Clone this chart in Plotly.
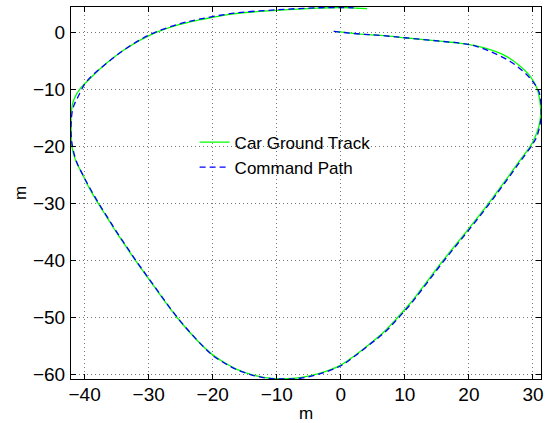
import plotly.graph_objects as go

# Car ground track (green, solid)
track_x = [-1.1, 3.0, 6.2, 10.0, 15.5, 18.5, 20.8, 23.3, 25.9, 28.0, 29.6, 30.6, 31.1, 31.2, 30.9, 30.3, 29.6,
           28.1, 26.5, 24.8, 23.1, 19.6, 16.0, 12.6, 10.8, 8.9, 6.8, 4.6, 2.2, 0.0, -3.2, -6.3, -9.0, -11.5, -14.1,
           -16.5, -18.8, -20.0, -21.6, -23.7, -25.6, -27.3, -28.9, -30.5, -32.1, -33.6, -35.1, -36.5,
           -37.9, -39.2, -40.3, -41.4, -42.0, -42.1, -42.05, -41.7, -40.6, -39.1, -36.5, -33.4, -29.7,
           -25.3, -21.9, -16.7, -10.0, -3.7, 0.0, 4.1]
track_y = [0.1, -0.35, -0.6, -1.0, -1.6, -1.95, -2.35, -3.1, -4.3, -6.0, -7.8, -9.8, -12.3, -14.5, -16.6, -18.5, -20.0,
           -22.3, -24.8, -27.4, -30.0, -35.0, -40.0, -45.0, -47.6, -50.0, -52.5, -54.6, -56.7, -58.4, -59.8, -60.6, -60.8, -60.65, -60.0,
           -59.0, -57.5, -56.6, -55.0, -52.5, -50.0, -47.5, -45.0, -42.5, -40.0, -37.5, -35.0, -32.5,
           -30.0, -27.5, -25.0, -22.5, -20.0, -17.0, -13.8, -11.9, -9.8, -8.1, -5.4, -2.8, -0.5,
           1.3, 2.16, 3.2, 3.8, 4.2, 4.3, 4.1]

# Command path (blue, dashed)
cmd_x = [-1.1, 3.0, 6.2, 10.0, 15.5, 18.5, 20.8, 23.3, 26.5, 29.3, 30.9, 31.25, 31.2, 30.6, 29.8,
         28.2, 26.6, 24.9, 23.2, 19.7, 16.1, 12.7, 10.9, 9.0, 6.9, 4.6, 2.2, 0.0, -3.2, -6.3, -9.0, -11.5, -14.1,
         -16.5, -18.8, -20.0, -21.5, -23.5, -25.4, -27.1, -28.7, -30.3, -31.9, -33.4, -34.9, -36.3,
         -37.7, -39.0, -40.2, -41.3, -41.9, -42.1, -42.1, -41.8, -41.0, -39.7, -36.6, -33.4, -29.7,
         -25.3, -21.9, -16.7, -10.0, -3.7, 0.0, 2.0]
cmd_y = [0.1, -0.35, -0.6, -1.0, -1.6, -1.95, -2.4, -3.4, -5.2, -7.8, -10.4, -13.0, -15.5, -18.3, -19.9,
         -22.4, -24.9, -27.5, -30.1, -35.1, -40.1, -45.1, -47.7, -50.1, -52.6, -54.7, -56.8, -58.5, -59.9, -60.7, -60.83, -60.7, -60.05,
         -59.05, -57.6, -56.7, -55.1, -52.7, -50.2, -47.7, -45.2, -42.7, -40.2, -37.7, -35.2, -32.7,
         -30.2, -27.7, -25.2, -22.6, -20.0, -18.0, -15.9, -13.3, -11.3, -8.7, -5.5, -2.8, -0.4,
         1.4, 2.3, 3.3, 3.9, 4.25, 4.3, 4.25]

x_range = [-42.12, 31.25]
y_range = [-60.83, 4.39]
x_ticks = [-40, -30, -20, -10, 0, 10, 20, 30]
y_ticks = [-60, -50, -40, -30, -20, -10, 0]

fig = go.Figure()
fig.add_trace(go.Scatter(x=track_x, y=track_y, mode="lines", name="Car Ground Track",
                         line=dict(color="#00ff00", width=1.3, shape="spline", smoothing=1.0)))
fig.add_trace(go.Scatter(x=cmd_x, y=cmd_y, mode="lines", name="Command Path",
                         line=dict(color="#0000ff", width=1.3, dash="6px,4px", shape="spline", smoothing=1.0)))

family = "Liberation Sans, Arial, Helvetica, sans-serif"
font = dict(family=family, size=17, color="black")
tickfont = dict(family=family, size=19, color="black")
axis_common = dict(showline=True, linecolor="black", linewidth=1, mirror="ticks",
                   ticks="inside", ticklen=5, tickcolor="black", tickwidth=1,
                   showgrid=True, gridcolor="#777777", griddash="1px,3px", gridwidth=1,
                   zeroline=False, tickfont=tickfont, automargin=False)

fig.update_layout(
    width=550, height=423,
    margin=dict(l=71, r=9, t=7, b=44),
    paper_bgcolor="white", plot_bgcolor="white",
    font=font,
    showlegend=True,
    legend=dict(x=0.263, y=0.684, xanchor="left", yanchor="top", bgcolor="rgba(0,0,0,0)",
                borderwidth=0, font=font, tracegroupgap=0),
    xaxis=dict(range=x_range, tickvals=x_ticks, ticklabelstandoff=-2,
               title=dict(text="m", font=font, standoff=8), **axis_common),
    yaxis=dict(range=y_range, tickvals=y_ticks, ticklabelstandoff=1,
               title=dict(text="m", font=font, standoff=2), **axis_common),
)

fig.write_html("out.html")
